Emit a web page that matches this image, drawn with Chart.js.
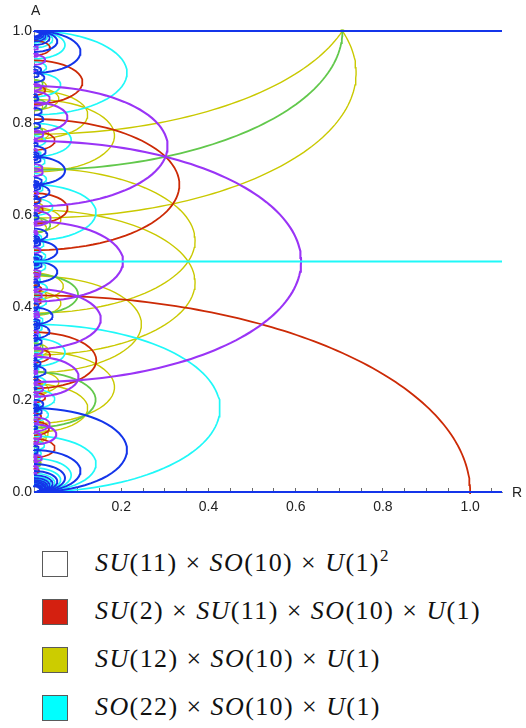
<!DOCTYPE html>
<html>
<head>
<meta charset="utf-8">
<script src="https://cdn.jsdelivr.net/npm/chart.js@4.4.0/dist/chart.umd.min.js"></script>
<style>
  body { margin: 0; background: #fff; width: 526px; height: 728px; position: relative; overflow: hidden; font-family: "Liberation Sans", Arial, sans-serif; }
  #wrap { position: absolute; left: 0; top: 0; width: 526px; height: 525px; }
  .axis-name { position: absolute; font-size: 14px; color: #222; line-height: 14px; }
  .swatch { position: absolute; left: 42px; width: 26px; height: 26px; border: 1.5px solid #5a5a5a; box-sizing: border-box; }
  .label { position: absolute; left: 95px; font-family: "Liberation Serif", "DejaVu Serif", serif; font-size: 26px; letter-spacing: 1.4px; line-height: 28px; white-space: nowrap; color: #111; }
  .label sup { font-size: 17px; vertical-align: 10px; line-height: 0; }
  .x { margin: 0 8px; }
</style>
</head>
<body>
<div id="wrap"><canvas id="chart" width="526" height="525"></canvas></div>
<div class="axis-name" style="left:31px; top:3px;">A</div>
<div class="axis-name" style="left:512px; top:485px;">R</div>

<div class="swatch" style="top:551px; background:#ffffff;"></div>
<div class="label" style="top:549px;"><i>SU</i>(11)<span class="x">×</span><i>SO</i>(10)<span class="x">×</span><i>U</i>(1)<sup>2</sup></div>
<div class="swatch" style="top:599px; background:#d42010;"></div>
<div class="label" style="top:597px;"><i>SU</i>(2)<span class="x">×</span><i>SU</i>(11)<span class="x">×</span><i>SO</i>(10)<span class="x">×</span><i>U</i>(1)</div>
<div class="swatch" style="top:647px; background:#cccc00;"></div>
<div class="label" style="top:645px;"><i>SU</i>(12)<span class="x">×</span><i>SO</i>(10)<span class="x">×</span><i>U</i>(1)</div>
<div class="swatch" style="top:695px; background:#00ffff;"></div>
<div class="label" style="top:693px;"><i>SO</i>(22)<span class="x">×</span><i>SO</i>(10)<span class="x">×</span><i>U</i>(1)</div>

<script>
// each curve is half of an ellipse centred on the A axis: [centre A, semi-axis along R]
// semi-axis along A is aspect * semi-axis along R
const aspect = 0.4264;

// horizontal enhancement lines
const blueLevels = [0, 1];
const cyanLevels = [0.5];

const redArcs = [
  [0, 1], [0.6667, 0.3333], [0.2857, 0.1429], [0.8889, 0.1111], [0.6154, 0.0769],
  [0.0952, 0.0476], [0.7619, 0.0476], [0.2963, 0.0370], [0.9630, 0.0370], [0.1379, 0.0345],
  [0.2051, 0.0256], [0.8718, 0.0256], [0.6122, 0.0204], [0.4407, 0.0169], [0.1639, 0.0164],
  [0.4127, 0.0159], [0.6349, 0.0159], [0.2388, 0.0149], [0.0460, 0.0115], [0.4719, 0.0112],
  [0.1062, 0.0088]
];

const greenArcs = [
  [1, 0.7071], [0.2, 0.1414], [0.4286, 0.1010], [0.5789, 0.0372], [0.8400, 0.0283],
  [0.3143, 0.0202], [0.8857, 0.0202], [0.7838, 0.0191], [0.0612, 0.0144], [0.1011, 0.0079]
];

const purpleArcs = [
  [0.5, 0.6124], [0.75, 0.3062], [0.5, 0.2041], [0.375, 0.1531], [0.25, 0.1021],
  [0.8125, 0.0765], [0.125, 0.0510], [0.5938, 0.0383], [0.1471, 0.0360], [0.8529, 0.0360],
  [0.9375, 0.0255], [0.2241, 0.0211], [0.7759, 0.0211], [0.3065, 0.0198], [0.6935, 0.0198],
  [0.7031, 0.0191], [0.0735, 0.0180], [0.4265, 0.0180], [0.1216, 0.0166], [0.8784, 0.0166],
  [0.4756, 0.0149], [0.5244, 0.0149], [0.4688, 0.0128], [0.3824, 0.0120], [0.6176, 0.0120],
  [0.1121, 0.0106], [0.3879, 0.0106], [0.1532, 0.0099], [0.3468, 0.0099], [0.6484, 0.0096],
  [0.0522, 0.0091], [0.9478, 0.0091], [0.2132, 0.0090], [0.9632, 0.0090], [0.5608, 0.0083],
  [0.2622, 0.0075], [0.7622, 0.0075], [0.0663, 0.0074], [0.2586, 0.0070], [0.7414, 0.0070],
  [0.4355, 0.0066], [0.5645, 0.0066], [0.2344, 0.0064], [0.4175, 0.0063], [0.5825, 0.0063],
  [0.1040, 0.0061], [0.0728, 0.0059], [0.2944, 0.0057], [0.0405, 0.0055], [0.0560, 0.0053],
  [0.1940, 0.0053], [0.0766, 0.0049], [0.2804, 0.0041], [0.0808, 0.0037], [0.3811, 0.0037],
  [0.3120, 0.0034], [0.6620, 0.0040], [0.5330, 0.0038], [0.8320, 0.0040], [0.9120, 0.0038],
  [0.7210, 0.0036], [0.6840, 0.0035], [0.4560, 0.0036], [0.3380, 0.0035], [0.1720, 0.0036]
];

const yellowArcs = [
  [0.9091, 0.7385], [1.0909, 0.7385], [0.4545, 0.3693], [0.5455, 0.3693], [0.3636, 0.2462],
  [0.2273, 0.1846], [0.7727, 0.1846], [0.1818, 0.1231], [0.8182, 0.1231], [0.4463, 0.0671],
  [0.4091, 0.0615], [0.5909, 0.0615], [0.2378, 0.0568], [0.8531, 0.0568], [0.2231, 0.0336],
  [0.7769, 0.0336], [0.1265, 0.0321], [0.3083, 0.0321], [0.1189, 0.0284], [0.4266, 0.0284],
  [0.5734, 0.0284], [0.8811, 0.0284], [0.1488, 0.0224], [0.8354, 0.0200], [0.6192, 0.0200],
  [0.5874, 0.0189], [0.1116, 0.0168], [0.0632, 0.0161], [0.1542, 0.0161], [0.3172, 0.0157],
  [0.0594, 0.0142], [0.2133, 0.0142], [0.0744, 0.0112], [0.0717, 0.0104], [0.4350, 0.0104],
  [0.2340, 0.0101]
];

const cyanArcs = [
  [0.1818, 0.4264], [0.9091, 0.2132], [0.0606, 0.1421], [0.6061, 0.1421], [0.0364, 0.0853],
  [0.7636, 0.0853], [0.3030, 0.0711], [0.9697, 0.0711], [0.0260, 0.0609], [0.8831, 0.0609],
  [0.0202, 0.0474], [0.2020, 0.0474], [0.6182, 0.0426], [0.9818, 0.0426], [0.0165, 0.0388],
  [0.0140, 0.0328], [0.1678, 0.0328], [0.4416, 0.0305], [0.9870, 0.0305], [0.0121, 0.0284],
  [0.4121, 0.0284], [0.6788, 0.0284], [0.9210, 0.0284], [0.2386, 0.0266], [0.4886, 0.0266],
  [0.5114, 0.0266], [0.7614, 0.0266], [0.0107, 0.0251], [0.7166, 0.0251], [0.1010, 0.0237],
  [0.9899, 0.0237], [0.0096, 0.0224], [0.5368, 0.0224], [0.2944, 0.0203], [0.3723, 0.0203],
  [0.6580, 0.0203], [0.0087, 0.0203], [0.0079, 0.0185], [0.3557, 0.0185], [0.0073, 0.0171],
  [0.5527, 0.0171], [0.0839, 0.0164], [0.7340, 0.0158], [0.2060, 0.0142], [0.3394, 0.0142],
  [0.4606, 0.0142], [0.1877, 0.0138], [0.1307, 0.0133], [0.4940, 0.0133], [0.5057, 0.0133],
  [0.1766, 0.0122], [0.3948, 0.0122], [0.2679, 0.0112], [0.1472, 0.0102], [0.3290, 0.0102],
  [0.3680, 0.0099], [0.3596, 0.0095], [0.4404, 0.0095], [0.1630, 0.0089], [0.2538, 0.0089],
  [0.4129, 0.0089], [0.2764, 0.0085], [0.2389, 0.0084], [0.1850, 0.0080], [0.1786, 0.0075],
  [0.0938, 0.0069], [0.0883, 0.0061], [0.1970, 0.0061]
];

const blueArcs = [
  [0.0909, 0.2132], [0.0455, 0.1066], [0.9545, 0.1066], [0.0303, 0.0711], [0.6970, 0.0711],
  [0.0227, 0.0533], [0.4773, 0.0533], [0.5227, 0.0533], [0.9773, 0.0533], [0.0182, 0.0426],
  [0.3818, 0.0426], [0.0152, 0.0355], [0.3485, 0.0355], [0.6515, 0.0355], [0.9848, 0.0355],
  [0.0130, 0.0305], [0.5584, 0.0305], [0.0114, 0.0267], [0.2614, 0.0267], [0.7386, 0.0267],
  [0.9886, 0.0267], [0.0101, 0.0237], [0.8990, 0.0237], [0.1909, 0.0213], [0.8091, 0.0213],
  [0.9909, 0.0213], [0.0083, 0.0194], [0.1742, 0.0178], [0.3258, 0.0178], [0.4924, 0.0178],
  [0.5076, 0.0178], [0.6742, 0.0178], [0.8258, 0.0178], [0.9924, 0.0178], [0.0076, 0.0178],
  [0.0070, 0.0164], [0.9160, 0.0164], [0.2792, 0.0152], [0.7208, 0.0152], [0.9935, 0.0152],
  [0.0065, 0.0152], [0.5394, 0.0142], [0.6606, 0.0142], [0.7939, 0.0142], [0.0061, 0.0142],
  [0.3693, 0.0133], [0.6307, 0.0133], [0.9943, 0.0133], [0.3583, 0.0125], [0.4495, 0.0118],
  [0.5505, 0.0118], [0.7320, 0.0112], [0.0955, 0.0107], [0.4045, 0.0107], [0.4955, 0.0107],
  [0.5045, 0.0107], [0.5955, 0.0107], [0.9045, 0.0107], [0.1861, 0.0102], [0.6710, 0.0102],
  [0.8528, 0.0102], [0.1780, 0.0093], [0.0871, 0.0089], [0.2462, 0.0089], [0.3370, 0.0089],
  [0.6630, 0.0089], [0.7538, 0.0089], [0.9130, 0.0089], [0.7236, 0.0085], [0.4580, 0.0082],
  [0.5420, 0.0082], [0.3670, 0.0079], [0.1396, 0.0076], [0.3604, 0.0076], [0.4968, 0.0076],
  [0.5030, 0.0076], [0.6396, 0.0076], [0.8600, 0.0076], [0.5486, 0.0074], [0.2697, 0.0071],
  [0.3303, 0.0071], [0.3970, 0.0071], [0.6030, 0.0071], [0.6697, 0.0071], [0.7300, 0.0071],
  [0.1847, 0.0067], [0.6640, 0.0065], [0.1791, 0.0063], [0.2883, 0.0061], [0.2247, 0.0059],
  [0.2753, 0.0059], [0.4975, 0.0059], [0.5430, 0.0058]
];

const xMax = 1.073;

const colors = {
  blue: "#1435ea",
  cyan: "#1ff8f8",
  red: "#cc2a06",
  yellow: "#c9c900",
  green: "#62c84c",
  purple: "#9a34f6",
};

function arcPoints(c, r) {
  const pts = [];
  const n = Math.max(24, Math.round(r * 180));
  for (let i = 0; i <= n; i++) {
    const t = -Math.PI / 2 + (Math.PI * i) / n;
    pts.push({ x: r * Math.cos(t), y: c + aspect * r * Math.sin(t) });
  }
  return pts;
}

const clipBox = { left: 3, top: 1.5, right: 0, bottom: 2 };

function arcSets(list, color, width) {
  return list.map(([c, r]) => ({
    data: arcPoints(c, r),
    borderColor: color,
    borderWidth: r > 0.05 ? width : width * 0.9,
    showLine: true,
    pointRadius: 0,
    tension: 0,
    clip: clipBox,
  }));
}

function levelSets(list, color, width) {
  return list.map((a) => ({
    data: [{ x: 0, y: a }, { x: xMax, y: a }],
    borderColor: color,
    borderWidth: width,
    showLine: true,
    pointRadius: 0,
    clip: clipBox,
  }));
}

// first datasets are painted last (on top)
const datasets = [
  ...levelSets(blueLevels, colors.blue, 2.2),
  ...levelSets(cyanLevels, colors.cyan, 2),
  ...arcSets(blueArcs, colors.blue, 2),
  ...arcSets(purpleArcs, colors.purple, 2.1),
  ...arcSets(redArcs, colors.red, 1.8),
  ...arcSets(greenArcs, colors.green, 1.8),
  ...arcSets(cyanArcs, colors.cyan, 1.7),
  ...arcSets(yellowArcs, colors.yellow, 1.4),
];

const tickFont = { family: "'Liberation Sans', Arial, sans-serif", size: 14 };
const majorLabel = (v) => {
  const k = v * 5;
  return Math.abs(k - Math.round(k)) < 1e-6 ? v.toFixed(1) : "";
};

new Chart(document.getElementById("chart"), {
  type: "scatter",
  data: { datasets },
  options: {
    responsive: false,
    animation: false,
    events: [],
    layout: { padding: { top: 31, right: 24, left: 0, bottom: 0 } },
    plugins: { legend: { display: false }, tooltip: { enabled: false } },
    scales: {
      x: {
        type: "linear",
        min: 0,
        max: xMax,
        afterFit: (scale) => { scale.height = 33; },
        border: { display: true, color: "#888", width: 1 },
        grid: { drawOnChartArea: false, drawTicks: true, tickLength: -4, color: "#444", tickWidth: 0.8 },
        ticks: {
          stepSize: 0.05,
          includeBounds: false,
          autoSkip: false,
          maxRotation: 0,
          padding: 11,
          color: "#222",
          font: tickFont,
          callback: (v) => (v > 0 ? majorLabel(v) : ""),
        },
      },
      y: {
        type: "linear",
        min: 0,
        max: 1,
        afterFit: (scale) => { scale.width = 34; },
        border: { display: true, color: "#888", width: 1 },
        grid: { drawOnChartArea: false, drawTicks: true, tickLength: -4, color: "#444", tickWidth: 0.8 },
        ticks: {
          stepSize: 0.05,
          includeBounds: false,
          autoSkip: false,
          padding: 6,
          color: "#222",
          font: tickFont,
          callback: majorLabel,
        },
      },
    },
  },
});
</script>
</body>
</html>
